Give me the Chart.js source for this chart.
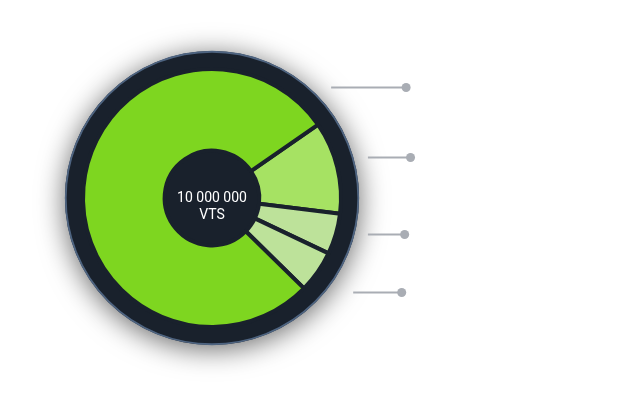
<!DOCTYPE html>
<html>
<head>
<meta charset="utf-8">
<script src="https://cdn.jsdelivr.net/npm/chart.js@4.4.0/dist/chart.umd.min.js"></script>
<style>
  html, body { margin: 0; padding: 0; background: #ffffff; }
  #wrap { position: relative; width: 621px; height: 403px; }
</style>
</head>
<body>
<div id="wrap"><canvas id="c" width="621" height="403"></canvas></div>
<script>
// ---- data ----
const categories = ['A', 'B', 'C', 'D'];
const shares = [11.6, 5.1, 5.3, 78.0];
const sliceColors = ['#a6e263', '#bde29a', '#bde29a', '#7ed620'];
const centerLines = ['10 000 000', 'VTS'];

const DARK = '#19212c';

const ringPlugin = {
  id: 'ring',
  beforeDatasetsDraw(chart) {
    const meta = chart.getDatasetMeta(0);
    const arc = meta.data[0];
    if (!arc) return;
    const { x, y, outerRadius } = arc.getProps(['x', 'y', 'outerRadius'], true);
    const R = outerRadius * 1.14;
    const ctx = chart.ctx;
    ctx.save();
    ctx.shadowColor = 'rgba(0,0,0,0.6)';
    ctx.shadowBlur = 28;
    ctx.shadowOffsetY = 4;
    ctx.beginPath();
    ctx.arc(x, y, R, 0, Math.PI * 2);
    ctx.fillStyle = DARK;
    ctx.fill();
    ctx.restore();
    ctx.save();
    ctx.beginPath();
    ctx.arc(x, y, R - 0.8, 0, Math.PI * 2);
    ctx.strokeStyle = '#4e6481';
    ctx.lineWidth = 1.8;
    ctx.stroke();
    ctx.restore();
  },
  afterDatasetsDraw(chart, args, opts) {
    const meta = chart.getDatasetMeta(0);
    const arc = meta.data[0];
    if (!arc) return;
    const { x, y, outerRadius } = arc.getProps(['x', 'y', 'outerRadius'], true);
    const ctx = chart.ctx;
    // center text
    ctx.save();
    ctx.fillStyle = '#ffffff';
    ctx.font = '14px Roboto';
    ctx.textAlign = 'center';
    ctx.textBaseline = 'middle';
    ctx.fillText(centerLines[0], x, y);
    ctx.fillText(centerLines[1], x, y + 17);
    ctx.restore();
    // leader lines
    const R = outerRadius * 1.14;
    ctx.save();
    ctx.strokeStyle = '#a9adb4';
    ctx.fillStyle = '#a9adb4';
    ctx.lineWidth = 2;
    opts.callouts.forEach(c => {
      const ly = Math.round(y + R * Math.sin(c.angle * Math.PI / 180)) + 0.5;
      const x0 = x + R * c.from, x1 = x + R * c.to;
      ctx.beginPath();
      ctx.moveTo(x0, ly);
      ctx.lineTo(x1, ly);
      ctx.stroke();
      ctx.beginPath();
      ctx.arc(x1, ly, 4.5, 0, Math.PI * 2);
      ctx.fill();
    });
    ctx.restore();
  }
};

new Chart(document.getElementById('c'), {
  type: 'doughnut',
  data: {
    labels: categories,
    datasets: [{
      data: shares,
      backgroundColor: sliceColors,
      borderColor: DARK,
      borderWidth: 4,
      hoverOffset: 0
    }]
  },
  options: {
    responsive: false,
    animation: false,
    rotation: 55.3,
    radius: 129,
    cutout: 47,
    layout: { padding: { left: 82, right: 279, top: 68, bottom: 75 } },
    plugins: {
      legend: { display: false },
      tooltip: { enabled: false },
      ring: {
        callouts: [
          { angle: -49, from: 0.81, to: 1.32 },
          { angle: -16.3, from: 1.06, to: 1.35 },
          { angle: 14.3, from: 1.06, to: 1.31 },
          { angle: 39.6, from: 0.96, to: 1.29 }
        ]
      }
    }
  },
  plugins: [ringPlugin]
});
</script>
</body>
</html>
